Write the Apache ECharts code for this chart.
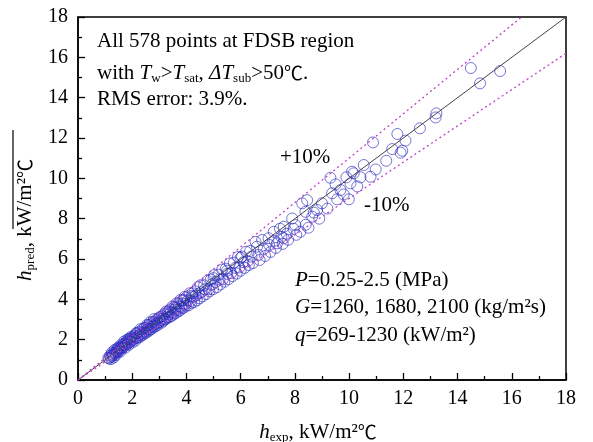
<!DOCTYPE html>
<html>
<head>
<meta charset="utf-8">
<script src="https://cdn.jsdelivr.net/npm/echarts@6/dist/echarts.min.js"></script>
<style>
html, body { margin: 0; padding: 0; background: #fff; }
#chart { width: 593px; height: 442px; }
</style>
</head>
<body>
<div id="chart"></div>
<script>
// valeurs (h_exp, h_pred en kW/m2C)
var hExp = [
    1.12, 1.15, 1.18, 1.20, 1.22, 1.25, 1.27, 1.30, 1.32, 1.35, 1.38, 1.40, 1.42, 1.45, 1.47, 1.50,
    1.52, 1.55, 1.57, 1.60, 1.62, 1.65, 1.67, 1.70, 1.72, 1.75, 1.77, 1.80, 1.82, 1.85, 1.87, 1.90,
    1.92, 1.95, 1.97, 2.00, 1.60, 1.70, 1.80, 1.35, 1.50, 1.88, 1.25, 1.45, 1.95,
    2.02, 2.05, 2.08, 2.10, 2.12, 2.15, 2.18, 2.20, 2.22, 2.25, 2.28, 2.30, 2.33, 2.35, 2.38, 2.40,
    2.42, 2.45, 2.48, 2.50, 2.52, 2.55, 2.58, 2.60, 2.62, 2.65, 2.68, 2.70, 2.72, 2.75, 2.78, 2.80,
    2.82, 2.85, 2.88, 2.90, 2.92, 2.95, 2.98, 3.00, 2.30, 2.55, 2.80, 2.15, 2.65,
    3.02, 3.05, 3.08, 3.10, 3.12, 3.15, 3.18, 3.20, 3.22, 3.25, 3.28, 3.30, 3.33, 3.35, 3.38, 3.40,
    3.42, 3.45, 3.48, 3.50, 3.52, 3.55, 3.58, 3.60, 3.63, 3.65, 3.68, 3.70, 3.73, 3.75, 3.78, 3.80,
    3.83, 3.85, 3.88, 3.90, 3.93, 3.95, 3.98, 4.00, 4.05, 4.08, 4.12, 4.15, 4.18, 4.22, 4.25, 4.28,
    4.32, 4.35, 4.38, 4.42, 4.45, 4.48, 3.30, 3.60, 3.90, 4.20,
    4.52, 4.55, 4.60, 4.65, 4.68, 4.72, 4.78, 4.82, 4.85, 4.90, 4.95, 4.98, 5.02, 5.08, 5.12, 5.18,
    5.22, 5.25, 5.32, 5.35, 5.40, 5.45, 5.50, 5.55, 5.60, 5.65, 5.70, 5.75, 5.80, 5.85, 5.90, 5.95,
    6.00, 6.05, 6.10, 6.15, 6.20, 6.25, 6.30, 6.35, 6.40, 6.45, 5.00, 5.50, 6.00,
    6.55, 6.60, 6.65, 6.70, 6.79, 6.85, 6.90, 7.03, 7.05, 7.10, 7.22, 7.25, 7.30, 7.34, 7.45, 7.50,
    7.55, 7.59, 7.59, 7.70, 7.75, 7.90, 7.95, 8.02, 8.05, 8.20, 8.27, 8.39, 8.45, 8.40, 8.50,
    8.64, 8.82, 9.00, 9.31, 9.37, 9.56, 9.68, 9.99, 10.05, 10.17, 9.90, 10.11, 10.42, 10.54, 10.79,
    8.70, 8.90, 9.20, 9.50, 9.80, 10.30,
    10.88, 10.98, 11.37, 11.59, 11.78, 11.90, 11.96, 12.08, 12.61, 13.19, 13.22, 14.49, 14.83, 15.57
];
var hPred = [
    1.10, 1.06, 1.21, 1.13, 1.04, 1.27, 1.18, 1.24, 1.12, 1.37, 1.31, 1.24, 1.44, 1.37, 1.53, 1.42,
    1.57, 1.50, 1.41, 1.65, 1.57, 1.73, 1.62, 1.79, 1.69, 1.61, 1.86, 1.77, 1.93, 1.83, 1.74, 1.99,
    1.89, 2.06, 1.95, 1.86, 1.76, 1.91, 1.99, 1.49, 1.63, 2.05, 1.36, 1.57, 2.13,
    2.12, 2.00, 2.20, 2.07, 1.95, 2.30, 2.13, 2.08, 2.36, 2.22, 2.14, 2.40, 2.30, 2.21, 2.52, 2.33,
    2.26, 2.58, 2.40, 2.34, 2.60, 2.50, 2.40, 2.72, 2.53, 2.48, 2.76, 2.64, 2.54, 2.87, 2.68, 2.62,
    2.90, 2.78, 2.68, 3.00, 2.82, 2.74, 3.06, 2.86, 2.52, 2.73, 3.02, 2.33, 2.86,
    3.12, 2.95, 2.84, 3.16, 3.04, 2.93, 3.27, 3.02, 3.00, 3.40, 3.12, 3.08, 3.41, 3.26, 3.12, 3.50,
    3.36, 3.18, 3.64, 3.33, 3.25, 3.62, 3.50, 3.31, 3.80, 3.47, 3.40, 3.80, 3.66, 3.44, 3.97, 3.62,
    3.55, 3.95, 3.80, 3.58, 4.12, 3.76, 3.68, 4.10, 3.95, 3.70, 4.30, 3.92, 3.82, 4.30, 4.12, 3.86,
    4.40, 4.18, 3.95, 4.60, 4.28, 4.05, 3.35, 3.58, 3.96, 4.16,
    4.70, 4.36, 4.15, 4.70, 4.50, 4.26, 4.92, 4.50, 4.40, 4.98, 4.75, 4.50, 5.20, 4.86, 4.60, 5.22,
    4.98, 4.74, 5.48, 5.00, 4.88, 5.52, 5.26, 5.00, 5.78, 5.30, 5.15, 5.82, 5.56, 5.28, 6.10, 5.58,
    5.42, 6.12, 5.84, 5.56, 6.36, 5.88, 5.70, 6.40, 6.12, 5.80, 5.05, 5.42, 6.06,
    6.85, 6.61, 6.20, 5.95, 6.94, 6.50, 6.15, 7.03, 6.70, 6.35, 7.35, 6.90, 6.55, 6.78, 7.50, 7.10,
    6.75, 7.60, 7.03, 7.25, 6.95, 8.01, 7.50, 7.68, 7.20, 7.35, 8.76, 8.34, 8.92, 7.70, 7.55,
    8.10, 8.43, 8.76, 10.03, 9.26, 8.96, 9.42, 8.96, 9.75, 10.25, 10.05, 10.33, 10.05, 10.66, 10.08,
    8.30, 8.00, 8.50, 9.70, 9.20, 9.60,
    11.78, 10.44, 10.87, 11.45, 12.20, 11.27, 11.37, 11.87, 12.48, 13.02, 13.22, 15.47, 14.71, 15.32
];

// droites de référence : parfaite, +10 %, -10 %
var diagLine = [[0, 0], [18, 18]];
var plusLine = [[0, 0], [16.364, 18]];
var minusLine = [[0, 0], [18, 16.2]];

var serif = '"Liberation Serif", "Times New Roman", serif';
var cjk = '"Noto Sans CJK SC", "Liberation Serif", serif';

var points = hExp.map(function(x, i) {
    return [x, hPred[i]];
});

var chart = echarts.init(document.getElementById('chart'));

var rich = {
    it: { fontFamily: serif, fontSize: 21, fontStyle: 'italic', color: '#000', lineHeight: 24 },
    n: { fontFamily: serif, fontSize: 21, color: '#000', lineHeight: 24 },
    deg: { fontFamily: cjk, fontSize: 19, color: '#000', lineHeight: 24 },
    sub: { fontFamily: serif, fontSize: 13, color: '#000', lineHeight: 16, verticalAlign: 'bottom' }
};

function axisCommon() {
    return {
        type: 'value',
        min: 0,
        max: 18,
        interval: 2,
        splitLine: { show: false },
        axisLine: { show: true, onZero: false, lineStyle: { color: '#000', width: 1.5 } },
        axisTick: { show: true, inside: true, length: 7, lineStyle: { color: '#000', width: 1.3 } },
        minorTick: { show: true, splitNumber: 2, length: 4, lineStyle: { color: '#000', width: 1.3 } },
        axisLabel: { fontFamily: serif, fontSize: 20, color: '#000' }
    };
}

var xAxis = axisCommon();
xAxis.axisLabel.margin = 9;
var yAxis = axisCommon();
yAxis.axisLabel.margin = 10;

// texte avec style riche, centré verticalement sur y
function label(x, y, text) {
    return {
        type: 'text', x: x, y: y,
        style: { text: text, rich: rich, verticalAlign: 'middle', align: 'left' }
    };
}

var option = {
    backgroundColor: '#fff',
    animation: false,
    grid: {
        left: 78, right: 27, top: 17, bottom: 62,
        show: true, borderColor: '#000', borderWidth: 1.5, backgroundColor: 'transparent'
    },
    xAxis: xAxis,
    yAxis: yAxis,
    series: [
        {
            type: 'scatter',
            data: points,
            symbol: 'circle',
            symbolSize: 11,
            itemStyle: {
                color: 'rgba(0,0,0,0)',
                borderColor: 'rgba(40,40,190,0.8)',
                borderWidth: 1
            },
            z: 2
        },
        {
            type: 'line', data: diagLine, symbol: 'none',
            lineStyle: { color: '#444', width: 1 }, z: 3
        },
        {
            type: 'line', data: plusLine, symbol: 'none',
            lineStyle: { color: '#c040c8', width: 1.3, type: [2, 3] }, z: 3
        },
        {
            type: 'line', data: minusLine, symbol: 'none',
            lineStyle: { color: '#c040c8', width: 1.3, type: [2, 3] }, z: 3
        }
    ],
    graphic: [
        label(97, 41, '{n|All 578 points at FDSB region}'),
        label(97, 73, '{n|with }{it|T}{sub|w}{n|>}{it|T}{sub|sat}{n|, }{it|ΔT}{sub|sub}{n|>50}{deg|℃}{n|.}'),
        label(97, 99, '{n|RMS error: 3.9%.}'),
        label(280, 157, '{n|+10%}'),
        label(364, 205, '{n|-10%}'),
        label(295, 280, '{it|P}{n|=0.25-2.5 (MPa)}'),
        label(295, 307, '{it|G}{n|=1260, 1680, 2100 (kg/m²s)}'),
        label(295, 335, '{it|q}{n|=269-1230 (kW/m²)}'),
        // noms des axes
        {
            type: 'text', x: 318, y: 432,
            style: { text: '{it|h}{sub|exp}{n|, kW/m²}{deg|℃}', rich: rich, align: 'center', verticalAlign: 'middle' }
        },
        {
            type: 'text', x: 25, y: 220, rotation: Math.PI / 2,
            style: { text: '{it|h}{sub|pred}{n|, kW/m²}{deg|℃}', rich: rich, align: 'center', verticalAlign: 'middle' }
        },
        // trait au-dessus de l'unité de l'axe Y (présent sur la figure)
        {
            type: 'line', shape: { x1: 13, y1: 130, x2: 13, y2: 229 },
            style: { stroke: '#000', lineWidth: 1.2 }
        }
    ]
};

chart.setOption(option);
</script>
</body>
</html>
